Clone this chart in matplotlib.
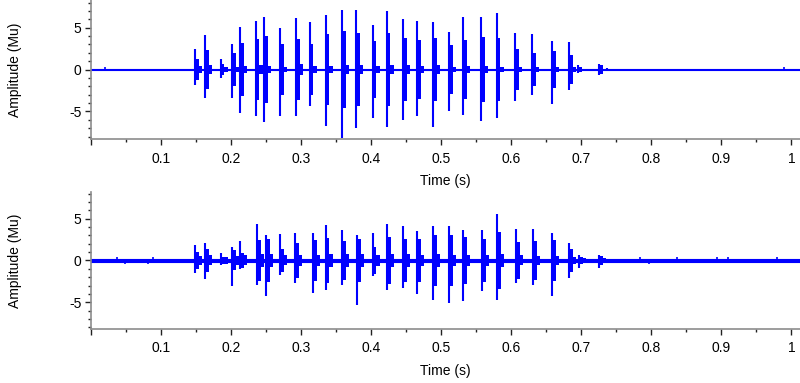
import matplotlib
matplotlib.use("Agg")
import matplotlib.pyplot as plt
from matplotlib.ticker import MultipleLocator, FuncFormatter

plt.rcParams['font.family'] = ['Liberation Sans', 'DejaVu Sans']
plt.rcParams['axes.unicode_minus'] = False

# ---- data (burst onsets in s, amplitudes in Mu) ----
# top trace
top_t = [0.149, 0.163, 0.185, 0.201, 0.213, 0.235, 0.247, 0.270, 0.293, 0.312,
         0.335, 0.358, 0.379, 0.402, 0.422, 0.445, 0.465, 0.489, 0.511, 0.531,
         0.557, 0.579, 0.605, 0.630, 0.658, 0.682, 0.696, 0.726, 0.737]
top_up = [2.4, 4.1, 1.3, 3.1, 5.1, 5.8, 6.3, 4.9, 6.1, 5.7,
          6.5, 7.1, 7.1, 5.3, 7.0, 6.0, 5.8, 5.7, 4.5, 6.3,
          6.3, 6.7, 4.4, 4.2, 3.4, 3.3, 0.5, 0.6, 0.2]
top_dn = [-1.8, -3.4, -1.05, -3.4, -5.2, -5.6, -6.3, -5.5, -5.5, -4.4,
          -6.8, -8.2, -7.0, -5.8, -6.9, -6.0, -5.6, -6.9, -5.0, -5.4,
          -6.2, -5.8, -3.8, -3.0, -4.1, -2.5, -0.45, -0.6, -0.2]
top_body = [1.3, 2.3, 0.7, 2.0, 3.2, 3.6, 4.0, 3.1, 3.6, 3.0,
            4.2, 4.6, 4.4, 3.4, 4.4, 3.8, 3.5, 3.8, 2.9, 3.5,
            3.9, 3.8, 2.5, 2.0, 2.2, 1.7, 0.3, 0.5, 0.1]
top_tail = [0.4, 0.5, 0.25, 0.35, 0.4, 0.5, 0.4, 0.3, 0.6, 0.4,
            0.4, 0.5, 0.5, 0.4, 0.5, 0.5, 0.4, 0.5, 0.3, 0.4,
            0.4, 0.3, 0.3, 0.25, 0.25, 0.25, 0.1, 0.1, 0.05]
top_blip_t = [0.020, 0.990]
top_blip_a = [0.3, 0.25]
top_noise = 0.04

# bottom trace
bot_t = [0.149, 0.163, 0.185, 0.201, 0.213, 0.237, 0.250, 0.270, 0.291, 0.317,
         0.335, 0.359, 0.380, 0.402, 0.423, 0.445, 0.465, 0.489, 0.511, 0.531,
         0.558, 0.580, 0.607, 0.631, 0.658, 0.682, 0.697, 0.726]
bot_up = [1.8, 2.1, 0.9, 1.6, 2.3, 4.3, 3.0, 3.2, 3.3, 3.3,
          4.2, 3.7, 3.1, 3.3, 4.4, 4.1, 3.5, 4.1, 4.1, 3.7,
          3.7, 5.5, 3.8, 3.8, 3.3, 2.1, 0.7, 0.7]
bot_dn = [-1.45, -2.25, -0.5, -3.1, -1.0, -2.9, -4.3, -1.7, -2.7, -3.9,
          -3.5, -2.9, -5.3, -1.9, -3.5, -3.3, -4.0, -4.7, -5.1, -4.8,
          -3.7, -4.7, -2.7, -2.9, -4.3, -2.1, -0.9, -0.9]
bot_body = [1.0, 1.4, 0.4, 1.2, 0.9, 2.4, 2.6, 1.4, 2.1, 2.5,
            2.7, 2.3, 2.6, 1.6, 2.8, 2.6, 2.6, 3.0, 3.0, 2.8,
            2.6, 3.4, 2.2, 2.3, 2.4, 1.4, 0.4, 0.5]
bot_tail = [0.5, 0.6, 0.4, 0.5, 0.6, 0.8, 0.8, 0.6, 0.7, 0.7,
            0.8, 0.8, 0.8, 0.7, 0.8, 0.8, 0.7, 0.8, 0.7, 0.7,
            0.7, 0.8, 0.6, 0.5, 0.5, 0.4, 0.3, 0.3]
bot_blip_t = [0.037, 0.049, 0.082, 0.088, 0.784, 0.796, 0.837, 0.858,
              0.894, 0.910, 0.965, 0.980]
bot_blip_a = [0.45, -0.4, -0.4, 0.45, 0.4, -0.4, 0.45, -0.35,
              0.4, 0.45, -0.35, 0.4]
bot_noise = 0.22

trace_span = [0.0, 1.012]
xtick_vals = [0.0, 0.1, 0.2, 0.3, 0.4, 0.5, 0.6, 0.7, 0.8, 0.9, 1.0]

BLUE = '#0000ff'
SPINE = '#8c8c8c'


def draw_trace(ax, t, up, dn, body, tail, blip_t, blip_a, noise):
    ax.fill_between(trace_span, [-noise, -noise], [noise, noise],
                    color=BLUE, lw=0.8)
    ax.plot(trace_span, [0, 0], color=BLUE, lw=1.2)
    # ringing after each onset
    ax.bar(t, [2 * a for a in tail], width=0.01,
           bottom=[-a for a in tail], align='edge', color=BLUE, lw=0)
    # dense body of each burst
    ax.bar(t, [2 * a for a in body], width=0.0055,
           bottom=[-a for a in body], align='edge', color=BLUE, lw=0)
    # peak excursion of each burst
    ax.vlines(t, dn, up, color=BLUE, lw=1.5)
    ax.vlines(blip_t, [0] * len(blip_a), blip_a, color=BLUE, lw=1.2)


def style_axes(ax):
    ax.set_xlim(trace_span)
    for s in ['top', 'right']:
        ax.spines[s].set_visible(False)
    for s in ['left', 'bottom']:
        ax.spines[s].set_color(SPINE)
        ax.spines[s].set_linewidth(1.2)
    ax.set_xticks(xtick_vals)
    ax.xaxis.set_major_formatter(FuncFormatter(lambda v, p: '' if v == 0 else '%g' % v))
    ax.xaxis.set_minor_locator(MultipleLocator(0.05))
    ax.set_yticks([-5, 0, 5])
    ax.yaxis.set_minor_locator(MultipleLocator(1))
    ax.tick_params(which='major', length=4, width=1.0, color='#222222',
                   labelsize=10, labelcolor='black')
    ax.tick_params(axis='x', which='major', pad=5)
    ax.tick_params(axis='y', which='major', pad=3)
    ax.tick_params(which='minor', length=2, width=1.0, color='#222222')
    ax.set_xlabel('Time (s)', fontsize=10)
    ax.set_ylabel('Amplitude (Mu)', fontsize=10)
    ax.yaxis.set_label_coords(-0.097, 0.5)


fig = plt.figure(figsize=(8, 3.83), dpi=100)
ax1 = fig.add_axes([0.11375, 0.637, 0.886, 0.363])
ax2 = fig.add_axes([0.11375, 0.141, 0.886, 0.358])

draw_trace(ax1, top_t, top_up, top_dn, top_body, top_tail,
           top_blip_t, top_blip_a, top_noise)
draw_trace(ax2, bot_t, bot_up, bot_dn, bot_body, bot_tail,
           bot_blip_t, bot_blip_a, bot_noise)

style_axes(ax1)
style_axes(ax2)
ax1.set_ylim(-8.3, 8.3)
ax2.set_ylim(-8.2, 8.2)
ax1.xaxis.set_label_coords(0.5, -0.25)
ax2.xaxis.set_label_coords(0.5, -0.255)

fig.savefig('out.png', dpi=100)
